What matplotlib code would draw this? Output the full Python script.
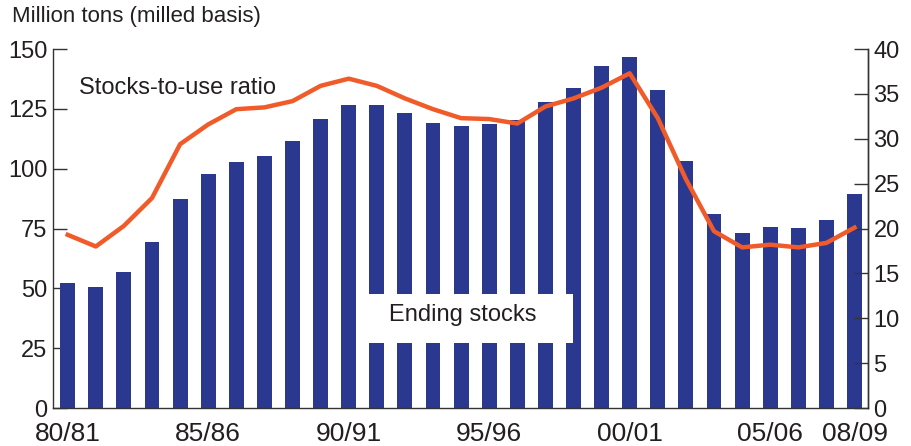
import matplotlib.pyplot as plt
from matplotlib.patches import Rectangle

# marketing years 80/81 .. 08/09
years = ['%02d/%02d' % (y % 100, (y + 1) % 100) for y in range(1980, 2009)]
shown_labels = ['80/81', '85/86', '90/91', '95/96', '00/01', '05/06', '08/09']

# ending stocks, million tons (milled basis)
ending_stocks = [52.4, 50.5, 56.7, 69.3, 87.5, 97.7, 103.0, 105.3, 111.5, 120.7,
                 126.6, 126.6, 123.2, 119.1, 117.8, 118.6, 120.3, 127.8, 133.7, 143.0,
                 146.7, 132.9, 103.2, 81.1, 73.2, 75.6, 75.1, 78.5, 89.4]

# stocks-to-use ratio, percent
stocks_to_use = [19.3, 18.0, 20.3, 23.4, 29.4, 31.6, 33.3, 33.5, 34.2, 35.9,
                 36.7, 35.9, 34.5, 33.3, 32.3, 32.2, 31.7, 33.6, 34.5, 35.7,
                 37.3, 32.3, 25.5, 19.7, 17.9, 18.2, 17.9, 18.4, 20.1]

bar_color = '#2b388f'
line_color = '#f15a29'
text_color = '#231f20'

plt.rcParams['font.family'] = ['Liberation Sans', 'DejaVu Sans']
plt.rcParams['font.size'] = 17
plt.rcParams['text.color'] = text_color

fig = plt.figure(figsize=(9.11, 4.46), dpi=100)
ax = fig.add_axes([0.0582, 0.0852, 0.8946, 0.8048])

x = list(range(len(years)))
ax.bar(x, ending_stocks, width=0.53, color=bar_color, zorder=2)
ax.set_xlim(-0.523, 28.48)
ax.set_ylim(0, 150)
ax.set_yticks(range(0, 151, 25))
ax.set_xticks(x)
ax.set_xticklabels([y if y in shown_labels else '' for y in years],
                   family=['Liberation Sans Narrow', 'Liberation Sans'], fontsize=19)

# white box behind the "Ending stocks" label
ax.add_patch(Rectangle((10.26, 27.2), 7.72, 20.4, facecolor='white',
                       edgecolor='none', zorder=3))
ax.text(14.07, 38.9, 'Ending stocks', ha='center', va='center', fontsize=17, zorder=4)
ax.text(0.4, 133.7, 'Stocks-to-use ratio', ha='left', va='center', fontsize=17, zorder=4)

ax2 = ax.twinx()
ax2.plot(x, stocks_to_use, color=line_color, linewidth=3.2, solid_joinstyle='round')
ax2.set_ylim(0, 40)
ax2.set_yticks(range(0, 41, 5))

for a in (ax, ax2):
    a.spines['top'].set_visible(False)
    for s in ('left', 'right', 'bottom'):
        a.spines[s].set_color('#333333')
        a.spines[s].set_linewidth(1.0)
    a.tick_params(direction='in', length=10, width=1, color='#333333',
                  labelcolor=text_color, labelsize=17, pad=4)
ax.tick_params(axis='x', pad=10, labelsize=19)
ax2.spines['left'].set_visible(False)
ax2.spines['bottom'].set_visible(False)

# last label sits a little left of its tick in the original
for lbl in ax.get_xticklabels():
    if lbl.get_text() == '08/09':
        lbl.set_x(lbl.get_position()[0] - 0.15)

fig.text(12 / 911, 1 - 6 / 446, 'Million tons (milled basis)', ha='left', va='top', fontsize=16)

fig.savefig('out.png', dpi=100)
